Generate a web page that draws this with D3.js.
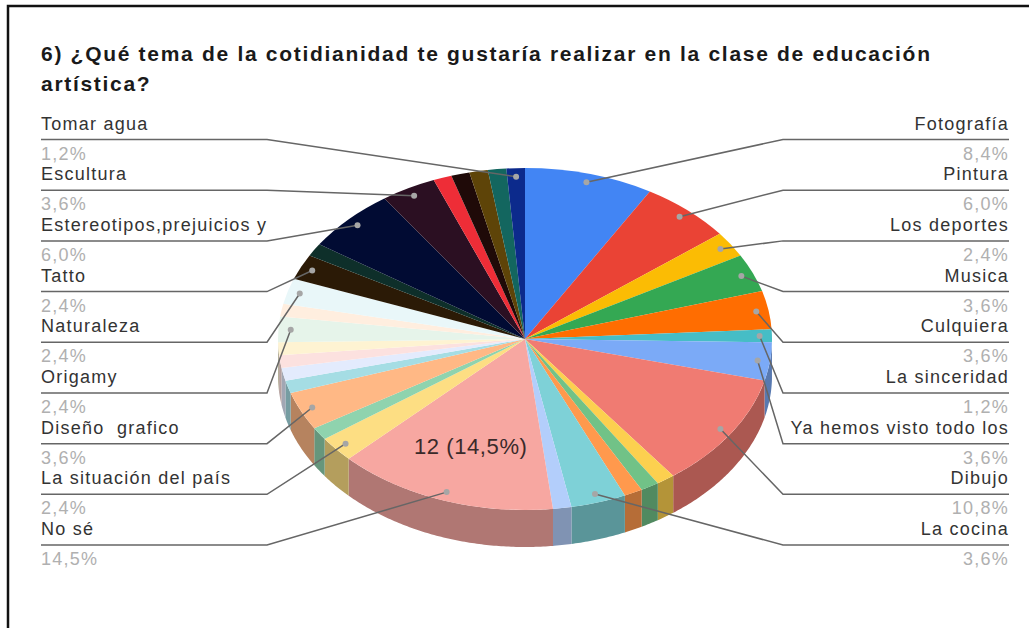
<!DOCTYPE html>
<html>
<head>
<meta charset="utf-8">
<script src="https://cdn.jsdelivr.net/npm/d3@7"></script>
<style>
    html, body { margin: 0; padding: 0; background: #fff; }
    svg { display: block; }
    text { font-family: "Liberation Sans", Arial, sans-serif; white-space: pre; }
</style>
</head>
<body>
<div id="chart"></div>
<script>
    // Slices in clockwise order from 12 o'clock, "" = slice without a label
    const sliceNames = [
        "Fotografía", "Pintura", "Los deportes", "Musica", "Culquiera", "La sinceridad",
        "Ya hemos visto todo los", "Dibujo", "", "", "", "La cocina",
        "", "No sé", "La situación del país", "", "Diseño  grafico", "",
        "", "", "", "Origamy", "", "Naturaleza",
        "Tatto", "", "Estereotipos,prejuicios y", "Escultura", "", "", "", "", "Tomar agua"
    ];
    const sliceValues = [
        7, 5, 2, 3, 3, 1,
        3, 9, 1, 1, 1, 3,
        1, 12, 2, 1, 3, 1,
        1, 1, 1, 2, 1, 2,
        2, 1, 5, 3, 1, 1, 1, 1, 1
    ];
    const sliceColors = [
        "#4285f4", "#ea4335", "#fbbc04", "#34a853", "#ff6d01", "#46bdc6",
        "#7baaf7", "#f07b72", "#fcd04f", "#71c287", "#ff994d", "#7ed1d7",
        "#b3cefb", "#f7a7a1", "#fdde83", "#8fd3ae", "#ffb885", "#a5dde4",
        "#e3ebfd", "#fce1df", "#fef3d2", "#e6f4ea", "#ffeedf", "#e9f7f9",
        "#2b1a06", "#0e2f2a", "#010b33", "#2b0f22", "#ee2d37", "#1f0a08", "#5e4408", "#13665f", "#0c2a8c"
    ];
    const titleLines = [
        "6) ¿Qué tema de la cotidianidad te gustaría realizar en la clase de educación",
        "artística?"
    ];
    const calloutName = "No sé";
    const calloutText = "12 (14,5%)";

    const width = 1029, height = 628;
    const cx = 525, cy = 339, rx = 247, ry = 171, depth = 37;

    const svg = d3.select("#chart").append("svg")
        .attr("width", width)
        .attr("height", height);

    // Outer frame of the screenshot (top and left only)
    svg.append("path")
        .attr("d", d3.line()([[8, height], [8, 6], [width, 6]]))
        .attr("fill", "none")
        .attr("stroke", "#111")
        .attr("stroke-width", 2.5);

    svg.selectAll("text.title")
        .data(titleLines)
        .join("text")
        .attr("class", "title")
        .attr("x", 41)
        .attr("y", (d, i) => 61 + i * 30)
        .attr("font-size", 21)
        .attr("font-weight", "bold")
        .attr("letter-spacing", 1.7)
        .attr("fill", "#1a1a1a")
        .text(d => d);

    const total = d3.sum(sliceValues);
    const pie = d3.pie().sort(null).value(d => d.value);
    const slices = pie(sliceValues.map((value, i) => ({
        name: sliceNames[i], value: value, color: sliceColors[i]
    })));

    const midAngle = d => (d.startAngle + d.endAngle) / 2;
    const onPie = (angle, r) => [cx + r * Math.sin(angle), cy - r * (ry / rx) * Math.cos(angle)];

    // Side wall, only the part of the rim facing the viewer
    const wallPath = d => {
        const a0 = Math.max(d.startAngle, Math.PI / 2);
        const a1 = Math.min(d.endAngle, Math.PI * 1.5);
        if (a1 <= a0) return null;
        const rim = d3.range(a0, a1, 0.01).concat(a1).map(a => onPie(a, rx));
        const lower = rim.map(p => [p[0], p[1] + depth]).reverse();
        return d3.line()(rim.concat(lower)) + "Z";
    };

    svg.append("g").selectAll("path")
        .data(slices)
        .join("path")
        .attr("d", wallPath)
        .attr("fill", d => d3.rgb(d.data.color).darker(0.95));

    const arc = d3.arc().innerRadius(0).outerRadius(rx);
    svg.append("g")
        .attr("transform", `translate(${cx},${cy}) scale(1,${ry / rx})`)
        .selectAll("path")
        .data(slices)
        .join("path")
        .attr("d", arc)
        .attr("fill", d => d.data.color);

    // Labels sit in two columns, right side top-down, left side bottom-up
    const labelled = slices.filter(d => d.data.name !== "");
    const rightSide = labelled.filter(d => midAngle(d) < Math.PI);
    const leftSide = labelled.filter(d => midAngle(d) >= Math.PI).reverse();
    const rowY = d3.scalePoint().domain(d3.range(9)).range([139.5, 545]);

    const pct = d => (d.value / total * 100).toFixed(1).replace(".", ",") + "%";

    function drawSide(items, textX, elbowX, anchor) {
        const g = svg.append("g").selectAll("g")
            .data(items)
            .join("g");

        g.append("path")
            .attr("d", (d, i) => d3.line()([[textX, rowY(i)], [elbowX, rowY(i)], onPie(midAngle(d), rx * 0.95)]))
            .attr("fill", "none")
            .attr("stroke", "#666")
            .attr("stroke-width", 1.5);

        g.append("circle")
            .attr("cx", d => onPie(midAngle(d), rx * 0.95)[0])
            .attr("cy", d => onPie(midAngle(d), rx * 0.95)[1])
            .attr("r", 3)
            .attr("fill", "#a6a6a6");

        g.append("text")
            .attr("x", textX)
            .attr("y", (d, i) => rowY(i) - 10)
            .attr("text-anchor", anchor)
            .attr("font-size", 18)
            .attr("letter-spacing", 1.25)
            .attr("fill", "#333")
            .text(d => d.data.name);

        g.append("text")
            .attr("x", textX)
            .attr("y", (d, i) => rowY(i) + 20)
            .attr("text-anchor", anchor)
            .attr("font-size", 18)
            .attr("letter-spacing", 1.25)
            .attr("fill", "#b0b0b0")
            .text(d => pct(d.data));
    }

    drawSide(leftSide, 41, 267, "start");
    drawSide(rightSide, 1009, 783, "end");

    // Hover-style callout on the largest slice
    const callout = slices.find(d => d.data.name === calloutName);
    svg.append("text")
        .attr("x", onPie(midAngle(callout), rx * 0.67)[0] + 1)
        .attr("y", onPie(midAngle(callout), rx * 0.67)[1] + 7)
        .attr("text-anchor", "middle")
        .attr("font-size", 22)
        .attr("letter-spacing", 0.6)
        .attr("fill", "#3a2a2a")
        .text(calloutText);
</script>
</body>
</html>
